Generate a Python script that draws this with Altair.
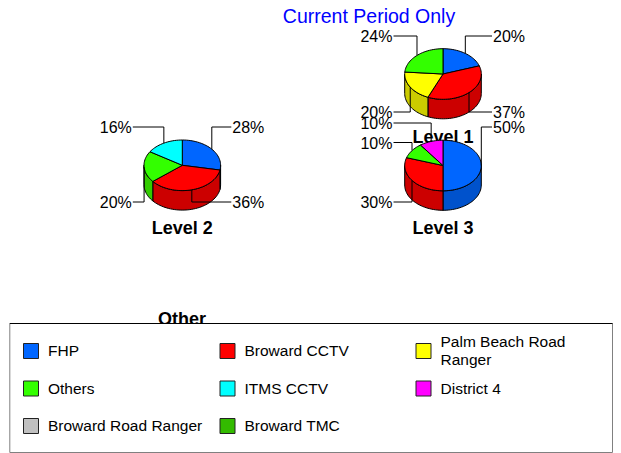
import math
import altair as alt
import pandas as pd

# ---- values ----
series = ["FHP", "Broward CCTV", "Palm Beach Road Ranger", "Others", "ITMS CCTV", "District 4", "Broward Road Ranger", "Broward TMC"]
level1_names = ["FHP", "Broward CCTV", "Palm Beach Road Ranger", "Others"]
level1_pct = [20, 37, 20, 24]
level2_names = ["FHP", "Broward CCTV", "Others", "ITMS CCTV"]
level2_pct = [28, 36, 20, 16]
level3_names = ["FHP", "Broward CCTV", "Others", "District 4"]
level3_pct = [50, 30, 10, 10]
colors = {"FHP": "#0066ff", "Broward CCTV": "#ff0000", "Palm Beach Road Ranger": "#ffff00",
          "Others": "#33ff00", "ITMS CCTV": "#00ffff", "District 4": "#ff00ff",
          "Broward Road Ranger": "#c0c0c0", "Broward TMC": "#33bb00"}
walls = {"FHP": "#0052cc", "Broward CCTV": "#cc0000", "Palm Beach Road Ranger": "#cccc00",
         "Others": "#33cc00", "ITMS CCTV": "#00cccc", "District 4": "#cc00cc"}

# ---- layout (image pixels) ----
W, H = 605, 445
M = 8
RX, RY, DEPTH = 38.3, 25.3, 19.5
pies = [
    dict(title="Level 1", cx=443, cy=74, names=level1_names, pct=level1_pct, label_y=[36, 112, 112, 36], title_y=142.5),
    dict(title="Level 2", cx=182.3, cy=165.3, names=level2_names, pct=level2_pct, label_y=[127, 202, 202, 127], title_y=234),
    dict(title="Level 3", cx=443, cy=165.5, names=level3_names, pct=level3_pct, label_y=[127, 202, 142.5, 123], title_y=233.5),
]
legend_cols = [23, 219.5, 415.5]
legend_rows = [343, 380.5, 418]


def px(x):
    return x - M


def pt(cx, cy, t, dy=0):
    r = math.radians(t)
    return cx + RX * math.sin(r), cy - RY * math.cos(r) + dy


def arc(a, b):
    n = max(2, int(abs(b - a) / 3) + 1)
    return [a + (b - a) * k / n for k in range(n + 1)]


polys, leaders, pct_left, pct_right, titles = [], [], [], [], []
pid = 0


def add_poly(points, fill):
    global pid
    pts = points + [points[0]]
    for i, (x, y) in enumerate(pts):
        polys.append(dict(id=pid, i=i, x=px(x), y=px(y), fill=fill))
    pid += 1


for p in pies:
    total = sum(p["pct"])
    titles.append(dict(x=px(p["cx"]), y=px(p["title_y"]), t=p["title"]))
    start = 0
    spans = []
    for name, v in zip(p["names"], p["pct"]):
        end = start + 360 * v / total
        spans.append((name, start, end, v))
        start = end
    # front walls
    for name, a, b, v in spans:
        a2, b2 = max(a, 90), min(b, 270)
        if a2 < b2:
            ts = arc(a2, b2)
            top = [pt(p["cx"], p["cy"], t) for t in ts]
            bot = [pt(p["cx"], p["cy"], t, DEPTH) for t in reversed(ts)]
            add_poly(top + bot, walls[name])
    # top faces
    for name, a, b, v in spans:
        add_poly([(p["cx"], p["cy"])] + [pt(p["cx"], p["cy"], t) for t in arc(a, b)], colors[name])
    # leaders and percent labels
    for (name, a, b, v), ly in zip(spans, p["label_y"]):
        mid = (a + b) / 2
        ax, ay = pt(p["cx"], p["cy"], mid)
        right = mid < 180
        ex = p["cx"] + (49 if right else -49.5)
        for i, (x, y) in enumerate([(ax, ay), (ax, ly), (ex, ly)]):
            leaders.append(dict(id=f"{p['title']}{name}", i=i, x=px(x), y=px(y)))
        (pct_left if right else pct_right).append(dict(x=px(ex + (1 if right else -1)), y=px(ly + 1), t=f"{v}%"))

X = alt.X("x:Q", scale=alt.Scale(domain=[0, W], range=[0, W], nice=False, zero=False), axis=None)
Y = alt.Y("y:Q", scale=alt.Scale(domain=[0, H], range=[0, H], nice=False, zero=False), axis=None)
X2, Y2 = alt.X2("x2:Q"), alt.Y2("y2:Q")
FONT = "Liberation Sans"

t_main = alt.Chart(pd.DataFrame([dict(x=px(369), y=px(16.5), t="Current Period Only")])).mark_text(
    font=FONT, fontSize=19.5, color="#0000ff", align="center", baseline="middle").encode(x=X, y=Y, text="t:N")
t_titles = alt.Chart(pd.DataFrame(titles + [dict(x=px(182), y=px(325), t="Other")])).mark_text(
    font=FONT, fontSize=18, fontWeight="bold", color="#000000", align="center", baseline="alphabetic").encode(x=X, y=Y, text="t:N")
shapes = alt.Chart(pd.DataFrame(polys)).mark_line(stroke="#000000", strokeWidth=1, interpolate="linear").encode(
    x=X, y=Y, detail="id:N", order="i:Q", fill=alt.Fill("fill:N", scale=None))
lead = alt.Chart(pd.DataFrame(leaders)).mark_line(stroke="#000000", strokeWidth=1).encode(
    x=X, y=Y, detail="id:N", order="i:Q")
lab_l = alt.Chart(pd.DataFrame(pct_left)).mark_text(font=FONT, fontSize=16, color="#000000", align="left", baseline="middle").encode(x=X, y=Y, text="t:N")
lab_r = alt.Chart(pd.DataFrame(pct_right)).mark_text(font=FONT, fontSize=16, color="#000000", align="right", baseline="middle").encode(x=X, y=Y, text="t:N")

box = alt.Chart(pd.DataFrame([dict(x=px(9.8), x2=px(612.5), y=px(323.5), y2=px(452.5))])).mark_rect(
    fill="#ffffff", stroke="#808080", strokeWidth=1).encode(x=X, x2=X2, y=Y, y2=Y2)
box_top = alt.Chart(pd.DataFrame([dict(i=0, x=px(9.8), y=px(323.5)), dict(i=1, x=px(612.5), y=px(323.5))])).mark_line(
    stroke="#000000", strokeWidth=1).encode(x=X, y=Y, order="i:Q")

sw, txt = [], []
for k, name in enumerate(series):
    c, r = k % 3, k // 3
    x, y = legend_cols[c], legend_rows[r]
    sw.append(dict(x=px(x + .5), x2=px(x + 15.5), y=px(y + .5), y2=px(y + 15.5), fill=colors[name]))
    lines = ["Palm Beach Road", "Ranger"] if name == "Palm Beach Road Ranger" else [name]
    for j, ln in enumerate(lines):
        yy = y + 8 + (j - (len(lines) - 1) / 2) * 18
        txt.append(dict(x=px(x + 25), y=px(yy), t=ln))
swatches = alt.Chart(pd.DataFrame(sw)).mark_rect(stroke="#222222", strokeWidth=1).encode(
    x=X, x2=X2, y=Y, y2=Y2, fill=alt.Fill("fill:N", scale=None))
leg_txt = alt.Chart(pd.DataFrame(txt)).mark_text(font=FONT, fontSize=15.5, color="#000000", align="left", baseline="middle").encode(x=X, y=Y, text="t:N")

chart = alt.layer(t_main, t_titles, shapes, lead, lab_l, lab_r, box, box_top, swatches, leg_txt).resolve_scale(
    x="shared", y="shared").properties(width=W, height=H, padding=0,
    autosize=alt.AutoSizeParams(type="none")).configure_view(stroke=None)
chart.save("out.html", embed_options={"renderer": "svg", "actions": False})
